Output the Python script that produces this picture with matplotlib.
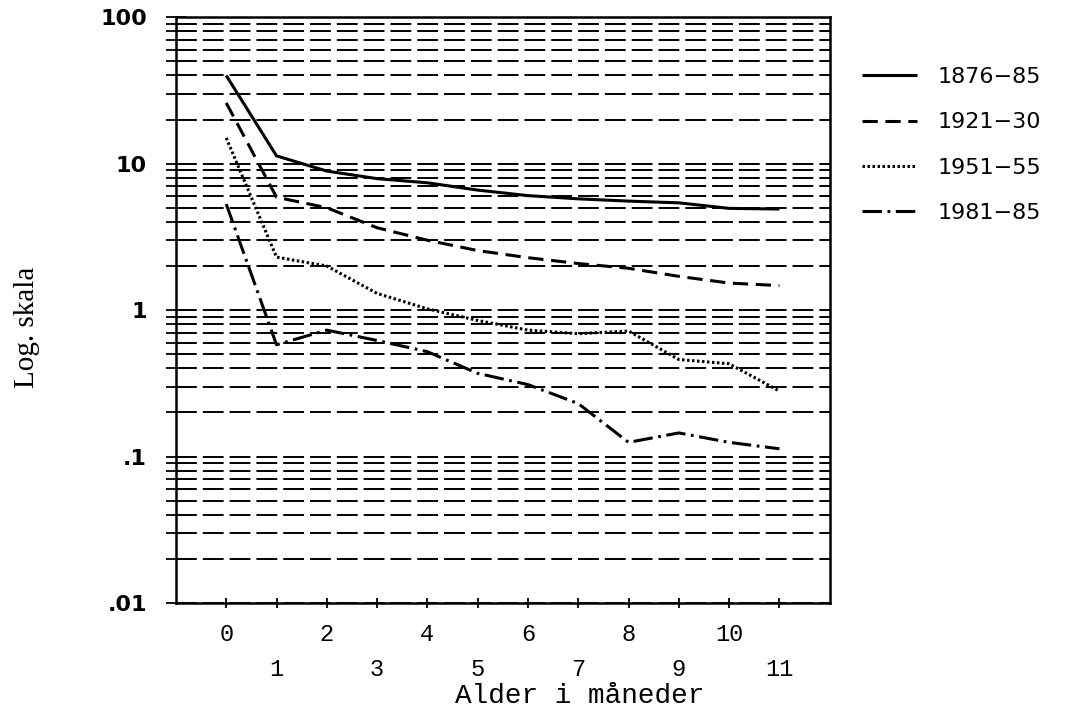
import matplotlib
matplotlib.use("Agg")
import matplotlib.pyplot as plt
from matplotlib.ticker import LogLocator, FixedLocator, NullFormatter

plt.rcParams["lines.scale_dashes"] = False

# --- data (log scale) -------------------------------------------------------
months = [0, 1, 2, 3, 4, 5, 6, 7, 8, 9, 10, 11]
p1876_85 = [40, 11.3, 8.9, 7.9, 7.4, 6.6, 6.05, 5.75, 5.55, 5.4, 4.95, 4.9]
p1921_30 = [26, 5.9, 5.0, 3.65, 3.0, 2.55, 2.28, 2.08, 1.93, 1.7, 1.53, 1.47]
p1951_55 = [15, 2.3, 2.0, 1.3, 1.02, 0.85, 0.73, 0.69, 0.72, 0.46, 0.43, 0.28]
p1981_85 = [5.3, 0.58, 0.73, 0.62, 0.52, 0.37, 0.31, 0.23, 0.125, 0.145, 0.125, 0.113]

labels = ["1876\u221285", "1921\u221230", "1951\u221255", "1981\u221285"]
series = [p1876_85, p1921_30, p1951_55, p1981_85]
styles = ["-", (0, (11, 5.5)), (0, (1.8, 1.8)), (24, (14, 4, 2, 4))]

yticks = [0.01, 0.1, 1, 10, 100]
ytick_labels = [".01", ".1", "1", "10", "100"]
even_ticks = [0, 2, 4, 6, 8, 10]
odd_ticks = [1, 3, 5, 7, 9, 11]

fig = plt.figure(figsize=(10.86, 7.17), dpi=100)
ax = fig.add_axes([0.162, 0.159, 0.602, 0.817])

for y, lab, ls in zip(series, labels, styles):
    ax.plot(months, y, color="black", lw=2.2, ls=ls, label=lab,
            solid_capstyle="butt", dash_capstyle="butt", zorder=3)

ax.set_yscale("log")
ax.set_ylim(0.01, 100)
ax.set_xlim(-1, 12)

ax.yaxis.set_major_locator(FixedLocator(yticks))
ax.set_yticklabels(ytick_labels, fontsize=16, fontweight="bold",
                   family="DejaVu Sans")
ax.yaxis.set_minor_locator(LogLocator(base=10, subs=range(2, 10)))
ax.yaxis.set_minor_formatter(NullFormatter())
ax.grid(axis="y", which="both", color="black", lw=1.4,
        ls=(0, (15, 4.3)), zorder=1)

ax.set_xticks(even_ticks)
ax.set_xticklabels([str(v) for v in even_ticks], fontsize=17,
                   family="Liberation Mono")
ax.set_xticks(odd_ticks, minor=True)
ax.set_xticklabels([str(v) for v in odd_ticks], minor=True, fontsize=17,
                   family="Liberation Mono")
ax.tick_params(axis="x", which="major", direction="inout", length=7,
               width=1.3, pad=11)
ax.tick_params(axis="x", which="minor", direction="inout", length=7,
               width=1.3, pad=36)
ax.tick_params(axis="y", which="both", direction="inout", length=14,
               width=1.3, pad=14)

for sp in ax.spines.values():
    sp.set_linewidth(1.8)
    sp.set_color("black")

ax.set_xlabel("Alder i m\u00e5neder", family="Liberation Mono", fontsize=20)
ax.xaxis.set_label_coords(0.618, -0.158)
ax.xaxis.label.set_va("center")
ax.set_ylabel("Log. skala", family="Liberation Serif", fontsize=21)
ax.yaxis.set_label_coords(-0.228, 0.471)
ax.yaxis.label.set_va("center")

leg = ax.legend(loc="upper left", bbox_to_anchor=(1.049, 0.915),
                frameon=False, fontsize=16, handlelength=2.5,
                handletextpad=0.9, labelspacing=1.14, borderpad=0,
                borderaxespad=0)
for line in leg.get_lines():
    line.set_linewidth(2.2)

fig.savefig("out.png", dpi=100, facecolor="white")
